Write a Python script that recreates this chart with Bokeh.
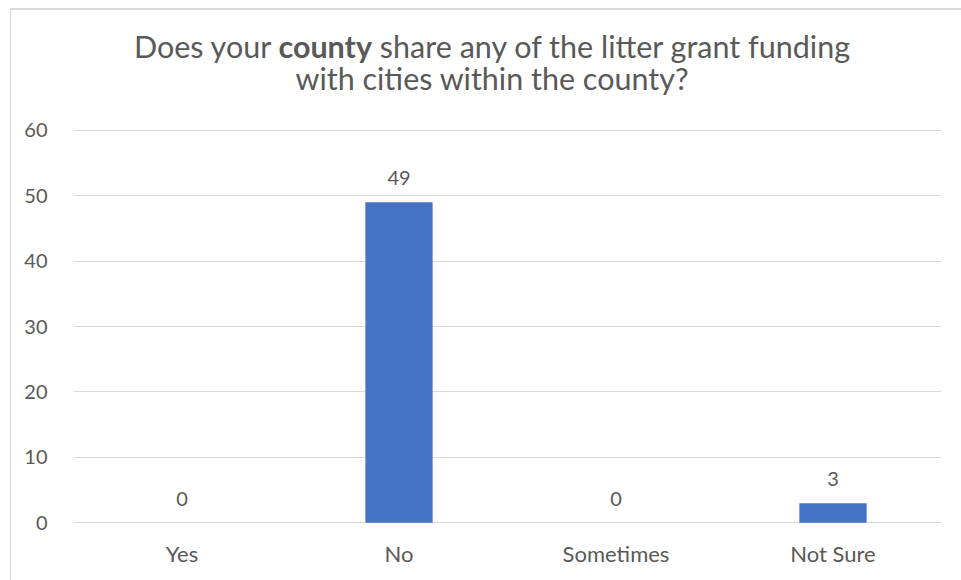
from bokeh.plotting import figure
from bokeh.models import ColumnDataSource, LabelSet, FixedTicker, Div
from bokeh.layouts import column
from bokeh.core.properties import value
from bokeh.embed import file_html
from bokeh.resources import INLINE

categories = ["Yes", "No", "Sometimes", "Not Sure"]
counts = [0, 49, 0, 3]
y_ticks = [0, 10, 20, 30, 40, 50, 60]
title_line1 = ("Does your ", "county", " share any of the litter grant funding")
title_line2 = "with cities within the county?"

FONT = "Lato"
GRAY = "#595959"

src = ColumnDataSource(dict(cat=categories, val=counts, lab=[str(c) for c in counts]))

title_html = (
    f'<div style="width:950px; text-align:center; font-family:{FONT}; font-size:30.5px; '
    f'color:{GRAY}; line-height:32px; padding-top:20px; padding-left:12px; box-sizing:border-box; white-space:nowrap;">'
    f'{title_line1[0]}<b>{title_line1[1]}</b>{title_line1[2]}<br>{title_line2}</div>'
)
div = Div(text=title_html, width=950, height=100, margin=0)

p = figure(x_range=categories, y_range=(-0.1, 60.1), width=950, height=470,
           output_backend="svg", toolbar_location=None, margin=0,
           min_border_left=62, min_border_right=20, min_border_top=19, min_border_bottom=57)
p.outline_line_color = None
p.vbar(x="cat", top="val", width=0.31, source=src, fill_color="#4472C4", line_color=None)

labels = LabelSet(x="cat", y="val", text="lab", source=src, y_offset=17,
                  text_align="center", text_baseline="bottom",
                  text_font=value(FONT), text_font_size="20px", text_color=GRAY)
p.add_layout(labels)

p.yaxis.ticker = FixedTicker(ticks=y_ticks)
p.ygrid.ticker = FixedTicker(ticks=y_ticks)
p.ygrid.grid_line_color = "#d9d9d9"
p.xgrid.grid_line_color = None
for ax in (p.xaxis[0], p.yaxis[0]):
    ax.axis_line_color = None
    ax.major_tick_line_color = None
    ax.minor_tick_line_color = None
    ax.major_label_text_font = FONT
    ax.major_label_text_color = GRAY
p.yaxis.major_label_text_font_size = "20px"
p.xaxis.major_label_text_font_size = "22px"
p.yaxis.major_label_standoff = 20
p.xaxis.major_label_standoff = 10

layout = column(div, p, spacing=0, margin=(8, 0, 0, 10),
                styles={"border-top": "2px solid #d9d9d9", "border-left": "1px solid #d9d9d9"})

open("out.html", "w").write(file_html(layout, INLINE))
